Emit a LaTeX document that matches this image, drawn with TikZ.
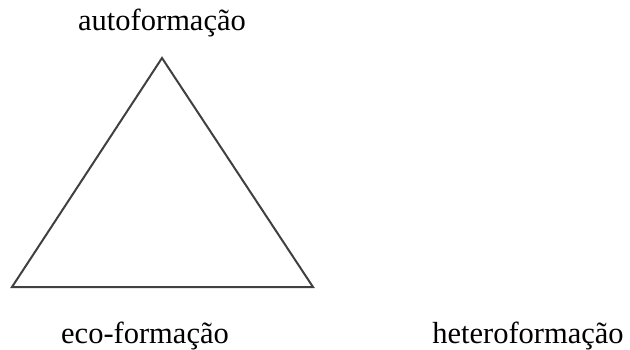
\documentclass[tikz,border=0pt]{standalone}
\usepackage{fontspec}
\setmainfont{Liberation Serif}
\begin{document}
\begin{tikzpicture}[x=1pt,y=-1pt,
  lbl/.style={inner sep=0pt,anchor=base,font=\fontsize{30.5}{33}\selectfont,text=black},
  edge/.style={draw=black!75,line width=2pt,line join=miter}]
\useasboundingbox (0,0) rectangle (630,349);
\coordinate (top) at (162,58);
\coordinate (bl) at (12,287);
\coordinate (br) at (313,287);
\draw[edge] (top) -- (br) -- (bl) -- cycle;
\node[lbl] (auto) at (162,30) {autoformação};
\node[lbl] (eco) at (145,343) {eco-formação};
\node[lbl] (hetero) at (528,343) {heteroformação};
\end{tikzpicture}
\end{document}
